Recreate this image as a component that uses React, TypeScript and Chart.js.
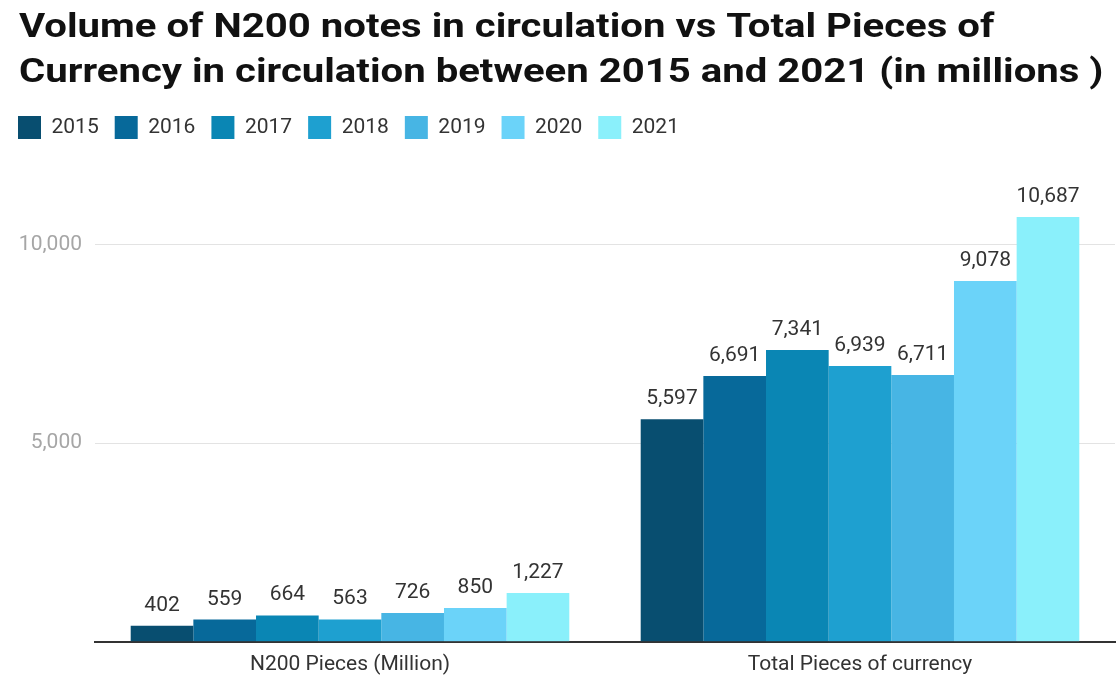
import React, { useEffect, useRef } from "react";
import { Chart, registerables } from "chart.js";

Chart.register(...registerables);

const categories = ["N200 Pieces (Million)", "Total Pieces of currency"];
const years = ["2015", "2016", "2017", "2018", "2019", "2020", "2021"];
const n200Values = [402, 559, 664, 563, 726, 850, 1227];
const totalValues = [5597, 6691, 7341, 6939, 6711, 9078, 10687];
const yearColors = ["#084e70", "#07699a", "#0a86b4", "#1ea0d0", "#47b5e4", "#6bd3f9", "#8af0fb"];
const yTicks = [0, 5000, 10000];
const titleLines = [
  "Volume of N200 notes in circulation vs Total Pieces of",
  "Currency in circulation between 2015 and 2021 (in millions )",
];

const fmt = (v: number) => v.toLocaleString("en-US");

const customTitle = {
  id: "customTitle",
  afterDraw(chart: any) {
    const ctx = chart.ctx;
    ctx.save();
    ctx.font = "bold 34px Roboto";
    ctx.fillStyle = "#111111";
    ctx.textAlign = "left";
    ctx.textBaseline = "alphabetic";
    const sx = 1.18;
    ctx.scale(sx, 1);
    ctx.fillText(titleLines[0], 19 / sx, 37);
    ctx.fillText(titleLines[1], 19 / sx, 82);
    ctx.restore();
  },
};

const valueLabels = {
  id: "valueLabels",
  afterDatasetsDraw(chart: any) {
    const ctx = chart.ctx;
    ctx.save();
    ctx.font = "21px Roboto";
    ctx.fillStyle = "#333333";
    ctx.textAlign = "center";
    ctx.textBaseline = "alphabetic";
    chart.data.datasets.forEach((ds: any, i: number) => {
      const meta = chart.getDatasetMeta(i);
      meta.data.forEach((bar: any, j: number) => {
        ctx.fillText(fmt(ds.data[j]), bar.x, bar.y - 15);
      });
    });
    ctx.restore();
  },
};

export default function App() {
  const ref = useRef<HTMLCanvasElement>(null);
  useEffect(() => {
    document.body.style.margin = "0";
    const datasets = years.map((y, i) => ({
      label: y,
      data: [n200Values[i], totalValues[i]],
      backgroundColor: yearColors[i],
      borderWidth: 0,
      categoryPercentage: 0.86,
      barPercentage: 1.0,
    }));
    const chart = new Chart(ref.current!, {
      type: "bar",
      data: { labels: categories, datasets },
      plugins: [valueLabels, customTitle],
      options: {
        animation: false,
        responsive: false,
        maintainAspectRatio: false,
        layout: { padding: { left: 2, right: 5, top: 100, bottom: 7 } },
        plugins: {
          title: { display: false },
          legend: {
            display: true,
            align: "start",
            labels: {
              boxWidth: 23,
              boxHeight: 23,
              padding: 16,
              color: "#333333",
              font: { family: "Roboto", size: 21 },
            },
          },
          tooltip: { enabled: false },
        },
        scales: {
          x: {
            grid: { display: false },
            border: { display: true, color: "#333333", width: 2 },
            ticks: { color: "#333333", font: { family: "Roboto", size: 21 }, padding: 2 },
          },
          y: {
            min: 0,
            max: 12400,
            afterFit: (scale: any) => {
              scale.width = 93;
            },
            afterBuildTicks: (scale: any) => {
              scale.ticks = yTicks.map((v) => ({ value: v }));
            },
            grid: {
              color: (c: any) => (c.tick && c.tick.value === 0 ? "rgba(0,0,0,0)" : "#e3e3e3"),
              drawTicks: false,
            },
            border: { display: false },
            ticks: {
              color: "#a6a6a6",
              font: { family: "Roboto", size: 21 },
              padding: 13,
              callback: (v: any) => (v === 0 ? "" : fmt(Number(v))),
            },
          },
        },
      },
    });
    return () => chart.destroy();
  }, []);
  return (
    <div style={{ width: 1120, height: 686 }}>
      <canvas ref={ref} width={1120} height={686} style={{ display: "block" }} />
    </div>
  );
}
